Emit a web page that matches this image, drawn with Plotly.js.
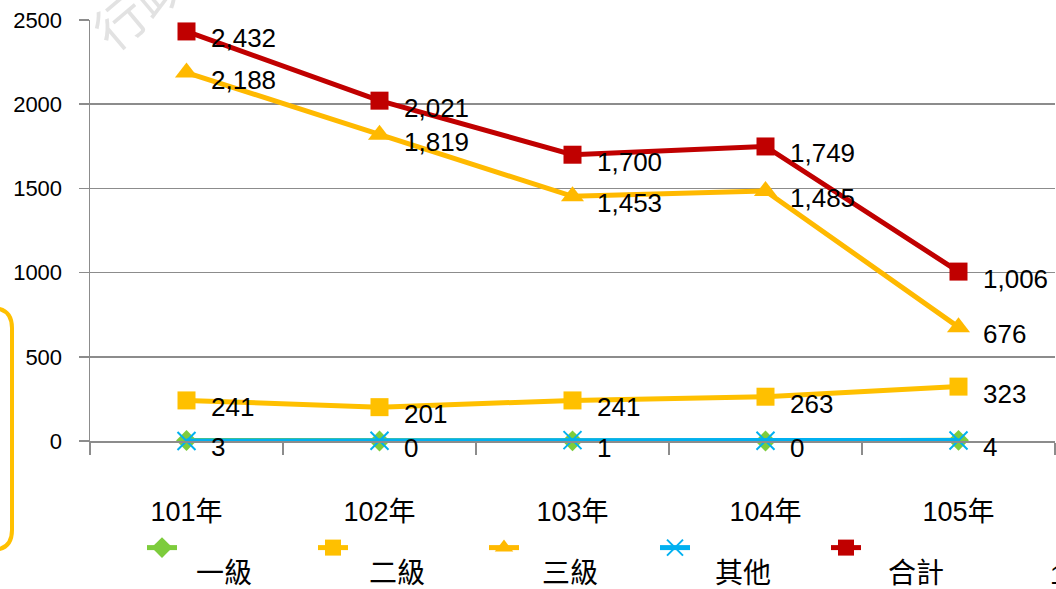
<!DOCTYPE html>
<html><head><meta charset="utf-8">
<script src="https://cdn.plot.ly/plotly-3.0.1.min.js"></script>
<style>html,body{margin:0;padding:0;background:#fff;}#chart{width:1056px;height:589px;}</style>
</head><body><div id="chart"></div>
<script>
const categories = ['101年','102年','103年','104年','105年'];
const seriesNames = ['一級','二級','三級','其他','合計'];
const level1 = [3, 0, 1, 0, 4];
const level2 = [241, 201, 241, 263, 323];
const level3 = [2188, 1819, 1453, 1485, 676];
const other = [0, 1, 5, 1, 3];
const total = [2432, 2021, 1700, 1749, 1006];
const yTicks = [0, 500, 1000, 1500, 2000, 2500];

const FONT = 'Liberation Sans, Arial, "Noto Sans CJK TC", sans-serif';
const colors = ['#7DCC3C', '#FFC000', '#FFB900', '#00B0F0', '#C00000'];
const symbols = ['diamond', 'square', 'triangle-up', 'x-thin-open', 'square'];
const sizes = [16, 18, 20, 18, 18];
const values = [level1, level2, level3, other, total];
const labeled = [true, true, true, false, true];

const traces = values.map((v, i) => ({
  type: 'scatter', mode: 'lines+markers', name: seriesNames[i],
  x: categories, y: v,
  line: {color: colors[i], width: 5},
  marker: {symbol: symbols[i], size: sizes[i], color: colors[i],
           line: {color: colors[i], width: symbols[i] === 'x-thin-open' ? 2 : 0}},
  cliponaxis: false, hoverinfo: 'x+y+name'
}));

const annotations = [];
values.forEach((v, i) => {
  if (!labeled[i]) return;
  v.forEach((val, j) => {
    annotations.push({
      x: categories[j], y: val, xref: 'x', yref: 'y',
      text: val.toLocaleString('en-US'), showarrow: false,
      xanchor: 'left', yanchor: 'middle', xshift: 22, yshift: -7,
      font: {family: FONT, size: 26, color: '#000'}
    });
  });
});

const px = x => (x - 90) / 965, py = y => (441 - y) / 421;

// legend labels (drawn below-right of the legend symbols)
const legStart = 194, legStep = 173;
seriesNames.forEach((n, i) => {
  annotations.push({
    xref: 'paper', yref: 'paper',
    x: px(legStart + i * legStep), y: py(573),
    xanchor: 'left', yanchor: 'middle', showarrow: false,
    text: n, font: {family: FONT, size: 28, color: '#000'}
  });
});
// page number fragment & watermark
annotations.push({xref: 'paper', yref: 'paper', x: px(1048), y: py(575),
  xanchor: 'left', yanchor: 'middle', showarrow: false, text: '1',
  font: {family: FONT, size: 26, color: '#000'}});
annotations.push({xref: 'paper', yref: 'paper', x: px(160), y: py(-8),
  xanchor: 'center', yanchor: 'middle', showarrow: false, text: '行政院', textangle: -40,
  font: {family: FONT, size: 50, color: '#e2e2e2'}});

const shapes = [{
  type: 'path', xref: 'paper', yref: 'paper',
  path: `M ${px(-30)},${py(308)} L ${px(-8)},${py(308)} Q ${px(12)},${py(308)} ${px(12)},${py(328)} L ${px(12)},${py(530)} Q ${px(12)},${py(550)} ${px(-8)},${py(550)} L ${px(-30)},${py(550)}`,
  line: {color: '#FFC000', width: 4}
}];

const layout = {
  width: 1056, height: 589,
  margin: {l: 90, r: 1, t: 20, b: 148},
  paper_bgcolor: '#fff', plot_bgcolor: '#fff',
  font: {family: FONT, color: '#000'},
  showlegend: true,
  legend: {orientation: 'h', x: px(142), y: py(548), xanchor: 'left', yanchor: 'middle',
           entrywidth: 126, entrywidthmode: 'pixels', traceorder: 'normal',
           font: {size: 14, color: 'rgba(0,0,0,0)'}, bgcolor: 'rgba(0,0,0,0)'},
  xaxis: {type: 'category', range: [-0.5, 4.5], tickson: 'boundaries',
          ticks: 'outside', ticklen: 12, tickwidth: 1.5, tickcolor: '#8c8c8c',
          showline: true, linecolor: '#8c8c8c', linewidth: 1.5, showgrid: false,
          tickfont: {size: 27, family: FONT}, ticklabelstandoff: 46, fixedrange: true},
  yaxis: {range: [0, 2500], tickvals: yTicks, ticktext: yTicks.map(String),
          ticks: 'outside', ticklen: 10, tickwidth: 1.5, tickcolor: '#8c8c8c',
          showline: true, linecolor: '#8c8c8c', linewidth: 1.5,
          showgrid: true, gridcolor: '#8c8c8c', gridwidth: 1.5, zeroline: false,
          tickfont: {size: 22, family: FONT}, ticklabelstandoff: 12, fixedrange: true},
  annotations: annotations, shapes: shapes
};
Plotly.newPlot('chart', traces, layout, {displayModeBar: false, staticPlot: true});
</script></body></html>
